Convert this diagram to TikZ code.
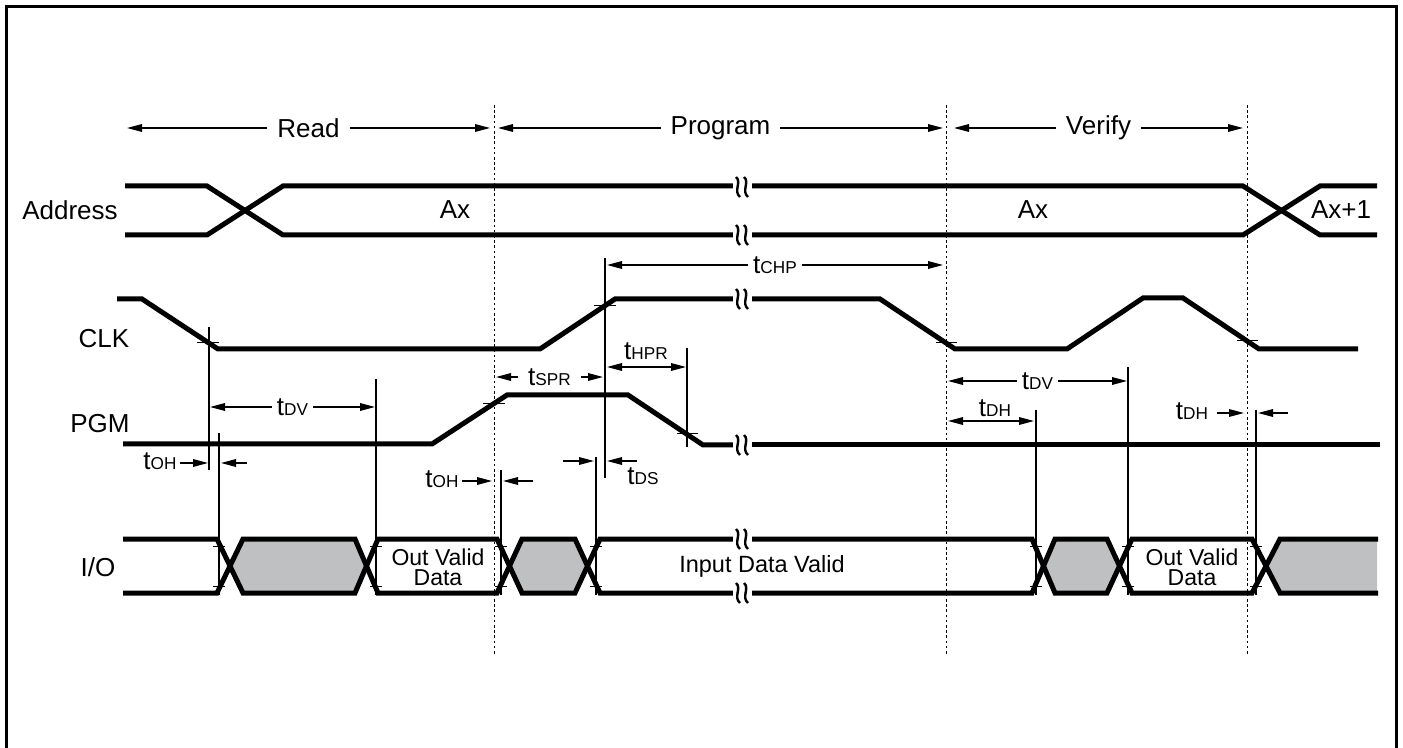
\documentclass[tikz,border=0pt]{standalone}
\usepackage{fontspec}
\setmainfont{Liberation Sans}
\usetikzlibrary{arrows.meta}
\newcommand\tsub[2]{{\fontsize{13}{15}\selectfont #1}{\fontsize{8.6}{10}\selectfont #2}}
\definecolor{iogray}{RGB}{191,192,194}
\tikzset{
  sig/.style={line width=2.5pt},
  thinline/.style={line width=0.55pt},
  tickline/.style={line width=0.5pt},
  dimone/.style={line width=0.7pt,-{Triangle[length=7.5pt,width=3.8pt]}},
  dimboth/.style={line width=0.7pt,{Triangle[length=7.5pt,width=3.8pt]}-{Triangle[length=7.5pt,width=3.8pt]}},
  phase/.style={line width=0.5pt,dash pattern=on 1.3pt off 1.3pt},
  lab/.style={font=\fontsize{13}{15}\selectfont,inner sep=0pt},
  cut/.style={fill=white,inner xsep=5pt,inner ysep=1pt,font=\fontsize{13}{15}\selectfont},
  tcut/.style={fill=white,inner xsep=2.5pt,inner ysep=1pt},
  tlab/.style={inner sep=0pt},
  ovd/.style={font=\fontsize{11.5}{10}\selectfont,align=center,inner sep=0pt},
  brk/.pic={
    \fill[white] (-9,-12) rectangle (9,12);
    \draw[line width=1.2pt] (-6,-10) .. controls (0,-5) and (-9,4) .. (-2,10);
    \draw[line width=1.2pt] (2,-10) .. controls (8,-5) and (-1,4) .. (6,10);
  }
}
\begin{document}
\begin{tikzpicture}[x=0.5pt,y=-0.5pt]
\useasboundingbox (0,0) rectangle (1403,748);
% frame
\draw[line width=1.5pt] (6,748) -- (6,7) -- (1396,7) -- (1396,748);

% phase lines
\draw[phase] (494,105) -- (494,655);
\draw[phase] (946,105) -- (946,655);
\draw[phase] (1247,105) -- (1247,655);

% phase arrows
\draw[dimboth] (127,128) -- node[cut]{Read} (490,128);
\draw[dimboth] (498,128) -- node[cut]{Program} (943,128);
\draw[dimboth] (954,128) -- node[cut]{Verify} (1243,128);

% signal names
\node[lab] (nAddr) at (70,210) {Address};
\node[lab] (nClk) at (104,339) {CLK};
\node[lab] (nPgm) at (100,424) {PGM};
\node[lab] (nIO) at (98,567) {I/O};

% Address bus
\draw[sig] (125,186) -- (207,186) -- (283,235) -- (733,235);
\draw[sig] (125,235) -- (207,235) -- (283,186) -- (733,186);
\draw[sig] (752,186) -- (1243,186) -- (1320,235) -- (1377,235);
\draw[sig] (752,235) -- (1243,235) -- (1320,186) -- (1377,186);
\pic at (742,187) {brk};
\pic at (742,235) {brk};
\node[lab] (ax1) at (455,210) {Ax};
\node[lab] (ax2) at (1033,210) {Ax};
\node[lab] (ax3) at (1341,210) {Ax+1};

% CLK
\draw[sig] (117,299) -- (142,299) -- (218,349) -- (540,349) -- (615,299) -- (733,299);
\draw[sig] (752,299) -- (880,299) -- (955,349) -- (1067,349) -- (1143,298) -- (1183,298) -- (1259,349) -- (1358,349);
\pic at (742,299) {brk};

% PGM
\draw[sig] (123,444) -- (432,444) -- (507,395) -- (628,395) -- (703,445) -- (733,445);
\draw[sig] (752,445) -- (1380,445);
\pic at (742,445) {brk};

% I/O gray regions
\fill[iogray] (230,566) -- (243,539) -- (355,539) -- (366.5,566) -- (355,593) -- (243,593) -- cycle;
\fill[iogray] (509.5,566) -- (522,539) -- (575,539) -- (587.5,566) -- (575,593) -- (522,593) -- cycle;
\fill[iogray] (1043.5,566) -- (1055,539) -- (1107,539) -- (1119.5,566) -- (1107,593) -- (1055,593) -- cycle;
\fill[iogray] (1266,566) -- (1280,539) -- (1377,539) -- (1377,593) -- (1280,593) -- cycle;
% I/O lines
\draw[sig] (123,539) -- (217,539) -- (243,593) -- (355,593) -- (378,539) -- (497,539) -- (522,593) -- (575,593) -- (600,539) -- (733,539);
\draw[sig] (123,593) -- (217,593) -- (243,539) -- (355,539) -- (378,593) -- (497,593) -- (522,539) -- (575,539) -- (600,593) -- (733,593);
\draw[sig] (752,539) -- (1032,539) -- (1055,593) -- (1107,593) -- (1132,539) -- (1252,539) -- (1280,593) -- (1378,593);
\draw[sig] (752,593) -- (1032,593) -- (1055,539) -- (1107,539) -- (1132,593) -- (1252,593) -- (1280,539) -- (1378,539);
\pic at (742,539) {brk};
\pic at (742,593) {brk};
\node[ovd] (ovd1) at (438,567) {Out Valid\\Data};
\node[ovd] (ovd2) at (1192,567) {Out Valid\\Data};
\node[lab,font=\fontsize{11.75}{14}\selectfont] (idv) at (762,566) {Input Data Valid};

% timing reference lines
\draw[thinline] (209,327) -- (209,470);
\draw[thinline] (219,433) -- (219,595);
\draw[thinline] (376,379) -- (376,595);
\draw[thinline] (501,470) -- (501,595);
\draw[thinline] (596,457) -- (596,595);
\draw[thinline] (605,258) -- (605,478);
\draw[thinline] (687,348) -- (687,447);
\draw[thinline] (1036,410) -- (1036,595);
\draw[thinline] (1128,367) -- (1128,595);
\draw[thinline] (1256,410) -- (1256,595);

% edge ticks
\draw[tickline] (197,343) -- (219,343);
\draw[tickline] (483,403.5) -- (505,403.5);
\draw[tickline] (594,306) -- (616,306);
\draw[tickline] (677,434) -- (698,434);
\draw[tickline] (936,343) -- (957,343);
\draw[tickline] (1237,341) -- (1258,341);
\foreach \xx in {219,376,501,596,1036,1128,1256}{
  \draw[tickline] (\xx-6,546) -- (\xx+6,546);
  \draw[tickline] (\xx-6,586) -- (\xx+6,586);
}

% timing dimensions
\draw[dimboth] (607,265) -- node[tcut]{\tsub{t}{CHP}} (943,265);
\draw[dimboth] (496,377) -- node[fill=white,inner xsep=5pt,inner ysep=1pt]{\tsub{t}{SPR}} (603,377);
\draw[dimboth] (607,367) -- (686,367);
\node[tlab] (thpr) at (646,351) {\tsub{t}{HPR}};
\draw[dimboth] (210,407) -- node[tcut]{\tsub{t}{DV}} (375,407);
\draw[dimboth] (948,381) -- node[tcut]{\tsub{t}{DV}} (1127,381);
\draw[dimboth] (948,421) -- (1034,421);
\node[tlab] (tdh1) at (995,408) {\tsub{t}{DH}};

\node[tlab] (toh1) at (160,461) {\tsub{t}{OH}};
\draw[dimone] (180,463) -- (208,463);
\draw[dimone] (247,463) -- (221,463);

\node[tlab] (toh2) at (442,479) {\tsub{t}{OH}};
\draw[dimone] (462,481) -- (492,481);
\draw[dimone] (533,481) -- (503,481);

\draw[dimone] (563,461) -- (594,461);
\draw[dimone] (637,461) -- (607,461);
\node[tlab] (tds) at (643,476) {\tsub{t}{DS}};

\node[tlab] (tdh2) at (1192,411) {\tsub{t}{DH}};
\draw[dimone] (1217,413) -- (1244,413);
\draw[dimone] (1288,413) -- (1258,413);
\end{tikzpicture}
\end{document}
